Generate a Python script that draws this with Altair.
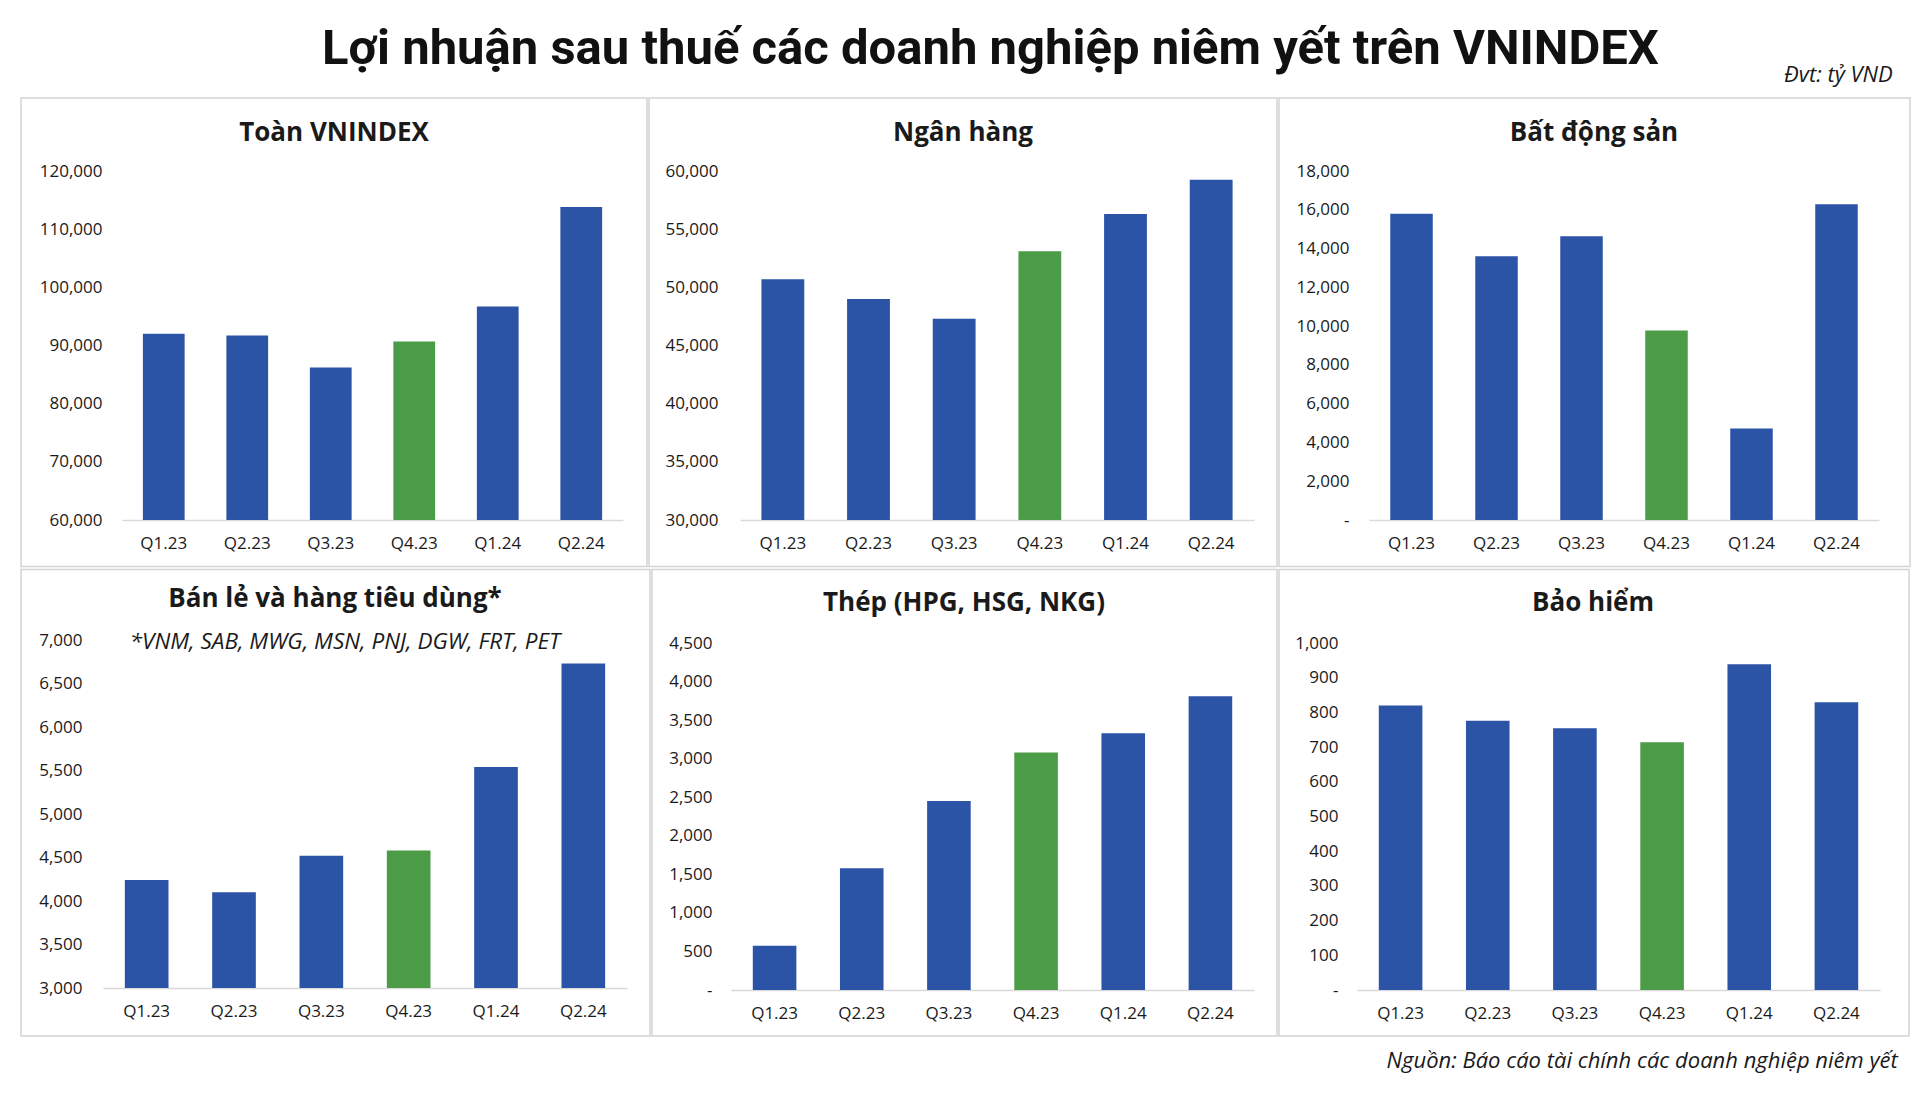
import altair as alt
import pandas as pd

# ---------------- data ----------------
quarters = ["Q1.23", "Q2.23", "Q3.23", "Q4.23", "Q1.24", "Q2.24"]
highlight_quarter = "Q4.23"

toan_vnindex = [92000, 91700, 86200, 90700, 96700, 113800]
ngan_hang = [50700, 49000, 47300, 53100, 56300, 59250]
bat_dong_san = [15800, 13600, 14630, 9770, 4720, 16280]
ban_le = [4240, 4100, 4520, 4580, 5540, 6730]
thep = [574, 1580, 2450, 3080, 3330, 3810]
bao_hiem = [820, 776, 754, 714, 939, 829]

ticks_toan = [60000, 70000, 80000, 90000, 100000, 110000, 120000]
ticks_ngan_hang = [30000, 35000, 40000, 45000, 50000, 55000, 60000]
ticks_bds = [0, 2000, 4000, 6000, 8000, 10000, 12000, 14000, 16000, 18000]
ticks_ban_le = [3000, 3500, 4000, 4500, 5000, 5500, 6000, 6500, 7000]
ticks_thep = [0, 500, 1000, 1500, 2000, 2500, 3000, 3500, 4000, 4500]
ticks_bao_hiem = [0, 100, 200, 300, 400, 500, 600, 700, 800, 900, 1000]

main_title = "Lợi nhuận sau thuế các doanh nghiệp niêm yết trên VNINDEX"
unit_note = "Đvt: tỷ VND"
source_note = "Nguồn: Báo cáo tài chính các doanh nghiệp niêm yết"
retail_note = "*VNM, SAB, MWG, MSN, PNJ, DGW, FRT, PET"

BLUE = "#2b53a6"
GREEN = "#4c9b46"
BORDER = "#d3d3d3"
BASE = "#d9d9d9"
TXT = "#1a1a1a"
FONT = "Open Sans"

# ---------------- layout (page pixel coordinates) ----------------
# origin: group origin (first column shares x, a row shares y)
# plot: (left, top, right, baseline); frame: (x0, y0, x1, y1); label_right: y labels right edge
layout = {
    "p1": dict(origin=(122, 171), plot=(122, 171, 623, 520), frame=(21, 98, 647, 566.5),
               title=(334, 133), label_right=102),
    "p2": dict(origin=(738, 171), plot=(738, 171, 1252, 520), frame=(647, 98, 1275, 566.5),
               title=(961, 133), label_right=716),
    "p3": dict(origin=(1365, 171), plot=(1365, 171, 1875, 520), frame=(1275, 98, 1906, 566.5),
               title=(1590, 133), label_right=1345),
    "p4": dict(origin=(122, 639), plot=(103, 637, 627, 985), frame=(21, 566.5, 650, 1033),
               title=(335, 596), note=(345, 639), label_right=82),
    "p5": dict(origin=(729, 639), plot=(729, 640, 1252, 987), frame=(650, 566.5, 1275, 1033),
               title=(962, 600), label_right=710),
    "p6": dict(origin=(1353, 639), plot=(1353, 640, 1876, 987), frame=(1275, 566.5, 1905, 1033),
               title=(1589, 600), label_right=1334),
}

one = pd.DataFrame({"k": [0]})


def panel(key, title, values, ticks, note=None):
    g = layout[key]
    ox, oy = g["origin"]
    pl, pt, pr, pb = g["plot"]
    fx0, fy0, fx1, fy1 = g["frame"]
    w, h = pr - ox, pb - oy
    base = ticks[0]
    df = pd.DataFrame({"q": quarters, "v": values})

    bars = alt.Chart(df).mark_bar().encode(
        x=alt.X(
            "q:N",
            sort=quarters,
            title=None,
            scale=alt.Scale(paddingInner=0.5, paddingOuter=0.25, range=[pl - ox, pr - ox]),
            axis=alt.Axis(
                labelAngle=0,
                labelFontSize=17,
                labelFont=FONT,
                labelFontWeight=500,
                labelColor=TXT,
                labelPadding=15,
                ticks=False,
                domainColor=BASE,
                domainWidth=1.5,
            ),
        ),
        y=alt.Y(
            "v:Q",
            title=None,
            scale=alt.Scale(domain=[ticks[0], ticks[-1]], zero=False, nice=False,
                            range=[pb - oy, pt - oy]),
            axis=alt.Axis(
                values=ticks,
                labelExpr="datum.value == 0 ? '-\u00a0\u00a0\u00a0' : format(datum.value, ',')",
                labelFontSize=17,
                labelFont=FONT,
                labelFontWeight=500,
                labelColor=TXT,
                labelPadding=ox - g["label_right"],
                ticks=False,
                domain=False,
                grid=False,
            ),
        ),
        y2=alt.datum(base),
        color=alt.condition(
            alt.datum.q == highlight_quarter, alt.value(GREEN), alt.value(BLUE)
        ),
    )

    frame = alt.Chart(one).mark_rect(
        fillOpacity=0, stroke=BORDER, strokeWidth=1.5
    ).encode(
        x=alt.value(fx0 - ox),
        x2=alt.value(fx1 - ox),
        y=alt.value(fy0 - oy),
        y2=alt.value(fy1 - oy),
    )

    tx, ty = g["title"]
    ttl = alt.Chart(one).mark_text(
        font=FONT, fontSize=26, fontWeight="bold", color=TXT,
        align="center", baseline="middle",
    ).encode(x=alt.value(tx - ox), y=alt.value(ty - oy), text=alt.value(title))

    layers = [frame, bars, ttl]
    if note:
        nx, ny = g["note"]
        layers.append(
            alt.Chart(one).mark_text(
                font=FONT, fontSize=22.5, fontStyle="italic", color=TXT,
                align="center", baseline="middle",
            ).encode(x=alt.value(nx - ox), y=alt.value(ny - oy), text=alt.value(note))
        )
    return alt.layer(*layers).properties(width=w, height=h)


p1 = panel("p1", "Toàn VNINDEX", toan_vnindex, ticks_toan)
p2 = panel("p2", "Ngân hàng", ngan_hang, ticks_ngan_hang)
p3 = panel("p3", "Bất động sản", bat_dong_san, ticks_bds)
p4 = panel("p4", "Bán lẻ và hàng tiêu dùng*", ban_le, ticks_ban_le, note=retail_note)
p5 = panel("p5", "Thép (HPG, HSG, NKG)", thep, ticks_thep)
p6 = panel("p6", "Bảo hiểm", bao_hiem, ticks_bao_hiem)

row1 = alt.hconcat(
    p1, p2, p3, spacing=0,
    title=alt.TitleParams(
        unit_note, anchor="end", orient="top", font=FONT, fontSize=22,
        fontStyle="italic", fontWeight="normal", color=TXT, dx=-18, offset=10,
    ),
)
row2 = alt.hconcat(
    p4, p5, p6, spacing=0,
    title=alt.TitleParams(
        source_note, anchor="end", orient="bottom", font=FONT, fontSize=22,
        fontStyle="italic", fontWeight="normal", color=TXT, dx=-12, offset=14,
    ),
)

chart = alt.vconcat(
    row1, row2, spacing=0,
    title=alt.TitleParams(
        main_title, anchor="middle", font="Roboto", fontSize=49, fontWeight="bold",
        color="#111111", dx=25, offset=-9.5,
    ),
).properties(
    padding={"left": 20, "top": 24, "right": 0, "bottom": 12},
    background="white",
).configure_view(strokeWidth=0)

chart.save("out.html", embed_options={"renderer": "svg", "actions": False})
